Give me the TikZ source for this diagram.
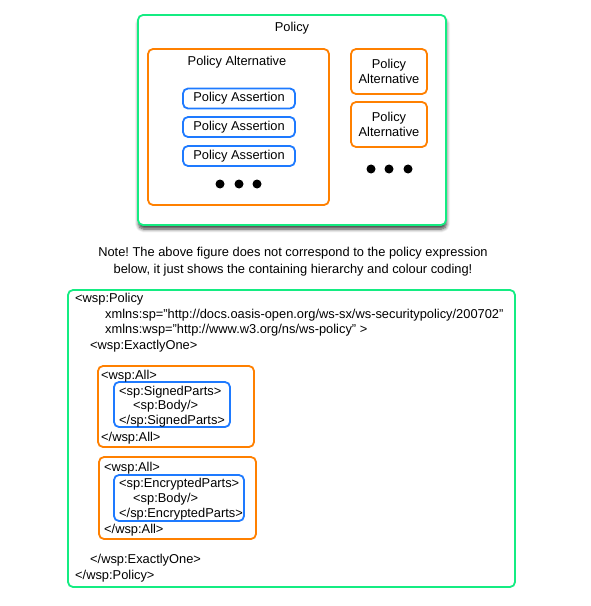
\documentclass[tikz,border=0pt]{standalone}
\usepackage{fontspec}
\setmainfont{Liberation Sans}
\usepackage{tikz}
\usetikzlibrary{shadows.blur}
\usetikzlibrary{positioning}
\frenchspacing

\definecolor{policygreen}{RGB}{20,236,130}
\definecolor{altorange}{RGB}{255,128,0}
\definecolor{assertblue}{RGB}{30,122,255}

\begin{document}
\begin{tikzpicture}[x=1bp,y=-1bp,font=\fontsize{12.9}{15}\selectfont]

        \useasboundingbox (0,0) rectangle (591,606);

        % containers
        \begin{scope}[every node/.style={draw=policygreen,line width=1.8bp,
            rounded corners=5bp,fill=white,inner sep=0pt}]
            \node[minimum width=308bp,minimum height=210bp,
                blur shadow={shadow xshift=0.5bp,shadow yshift=-4bp,
                    shadow blur steps=6,shadow blur radius=3.5bp,shadow opacity=75}]
                (policy) at (292,120) {};
            \node[minimum width=447bp,minimum height=297bp] (xmlpolicy) at (291.5,438.5) {};
        \end{scope}

        \begin{scope}[every node/.style={draw=altorange,line width=1.8bp,
            rounded corners=5bp,inner sep=0pt,align=center}]
            \node[minimum width=181bp,minimum height=156bp] (alt) at (238.5,127) {};
            \node[minimum width=76bp,minimum height=45bp] (altA) at (389,71.5) {Policy\\Alternative};
            \node[minimum width=76bp,minimum height=45bp] (altB) at (389,124.5) {Policy\\Alternative};
            \node[minimum width=156bp,minimum height=81bp] (xmlallA) at (176,406.5) {};
            \node[minimum width=157bp,minimum height=82bp] (xmlallB) at (177.5,498) {};
        \end{scope}

        \begin{scope}[every node/.style={draw=assertblue,line width=1.8bp,
            rounded corners=5bp,inner sep=0pt}]
            \node[minimum width=112bp,minimum height=20bp] (assertA) at (239,98.5) {Policy Assertion};
            \node[minimum width=112bp,minimum height=20bp] (assertB) at (239,127) {Policy Assertion};
            \node[minimum width=112bp,minimum height=20bp] (assertC) at (239,156) {Policy Assertion};
            \node[minimum width=116bp,minimum height=45bp] (xmlsigned) at (172,404.5) {};
            \node[minimum width=130bp,minimum height=46bp] (xmlencrypted) at (179,498) {};
        \end{scope}

        % titles and dots
        \node (policytitle) at (292,28) {Policy};
        \node (alttitle) at (237,62) {Policy Alternative};
        \foreach \x in {220,239,257}
            \node[circle,fill=black,inner sep=0pt,minimum size=9bp] (dotA\x) at (\x,184) {};
        \foreach \x in {371,389,408}
            \node[circle,fill=black,inner sep=0pt,minimum size=9bp] (dotB\x) at (\x,169) {};

        \node[align=center,font=\fontsize{12.9}{17}\selectfont] (note) at (293,261.5)
            {Note! The above figure does not correspond to the policy expression\\
             below, it just shows the containing hierarchy and colour coding!};

        % xml lines
        \begin{scope}[every node/.style={anchor=base west,inner sep=0pt}]
            \node (lineA) at (75,302.5) {<wsp:Policy};
            \node (lineB) at (105,318.5) {xmlns:sp="http://docs.oasis-open.org/ws-sx/ws-securitypolicy/200702"};
            \node (lineC) at (105,333.5) {xmlns:wsp="http://www.w3.org/ns/ws-policy" >};
            \node (lineD) at (90,349.5) {<wsp:ExactlyOne>};
            \node (lineE) at (101,379.5) {<wsp:All>};
            \node (lineF) at (119,395.5) {<sp:SignedParts>};
            \node (lineG) at (133,409.5) {<sp:Body/>};
            \node (lineH) at (119,424.5) {</sp:SignedParts>};
            \node (lineI) at (101,441.5) {</wsp:All>};
            \node (lineJ) at (104,471.5) {<wsp:All>};
            \node (lineK) at (119,487.5) {<sp:EncryptedParts>};
            \node (lineL) at (133,502.5) {<sp:Body/>};
            \node (lineM) at (119,517.5) {</sp:EncryptedParts>};
            \node (lineN) at (104,533.5) {</wsp:All>};
            \node (lineO) at (90,563.5) {</wsp:ExactlyOne>};
            \node (lineP) at (75,579.5) {</wsp:Policy>};
        \end{scope}
    \end{tikzpicture}
\end{document}
